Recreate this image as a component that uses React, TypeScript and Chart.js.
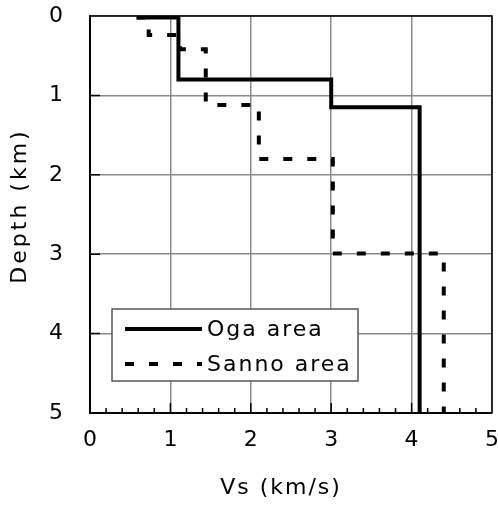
import React, { useEffect, useRef } from "react";
import { Chart, registerables } from "chart.js";

Chart.register(...registerables);

const ogaVs = [0.58, 1.1, 1.1, 3.0, 3.0, 4.1, 4.1];
const ogaDepth = [0.02, 0.02, 0.8, 0.8, 1.15, 1.15, 5];
const sannoVs = [0.58, 0.73, 0.73, 1.12, 1.12, 1.44, 1.44, 2.1, 2.1, 3.02, 3.02, 4.4, 4.4];
const sannoDepth = [0.02, 0.02, 0.24, 0.24, 0.42, 0.42, 1.12, 1.12, 1.8, 1.8, 2.99, 2.99, 5];
const seriesLabels = ["Oga area", "Sanno area"];
const xTitle = "Vs (km/s)";
const yTitle = "Depth (km)";
const xMajorTicks = [0, 1, 2, 3, 4, 5];
const FONT = "DejaVu Sans";

const toPts = (xs: number[], ys: number[]) => xs.map((x, i) => ({ x, y: ys[i] }));

const zeroPad = (s: any) => {
  s.paddingTop = 0;
  s.paddingBottom = 0;
  s.paddingLeft = 0;
  s.paddingRight = 0;
};

const decorPlugin = {
  id: "decor",
  beforeDatasetsDraw(chart: any) {
    const { ctx, chartArea: a } = chart;
    const xs = chart.scales.x;
    const ys = chart.scales.y;
    ctx.save();
    ctx.strokeStyle = "#000";
    ctx.lineWidth = 1.5;
    ctx.beginPath();
    for (let v = 1; v < 5; v++) {
      const py = ys.getPixelForValue(v);
      ctx.moveTo(a.left, py);
      ctx.lineTo(a.left + 10, py);
      const px = xs.getPixelForValue(v);
      ctx.moveTo(px, a.bottom);
      ctx.lineTo(px, a.bottom - 10);
    }
    for (let i = 1; i < 25; i++) {
      if (i % 5 === 0) continue;
      const px = xs.getPixelForValue(i * 0.2);
      ctx.moveTo(px, a.bottom);
      ctx.lineTo(px, a.bottom - 5);
    }
    ctx.stroke();
    ctx.lineWidth = 1.5;
    ctx.beginPath();
    ctx.moveTo(a.left, a.top);
    ctx.lineTo(a.right, a.top);
    ctx.lineTo(a.right, a.bottom);
    ctx.stroke();
    ctx.restore();
  },
  afterDraw(chart: any) {
    const { ctx, chartArea: a } = chart;
    ctx.save();
    (ctx as any).letterSpacing = "2px";
    ctx.fillStyle = "#000";
    ctx.font = `22px "${FONT}"`;
    ctx.textAlign = "center";
    ctx.textBaseline = "middle";
    ctx.fillText(xTitle, a.left + 191, 488);
    ctx.save();
    (ctx as any).letterSpacing = "3px";
    ctx.translate(20, a.top + 190);
    ctx.rotate(-Math.PI / 2);
    ctx.fillText(yTitle, 0, 0);
    ctx.restore();

    // legend
    const bx = a.left + 22;
    const by = a.top + 293;
    const bw = 246;
    const bh = 72;
    ctx.fillStyle = "#fff";
    ctx.fillRect(bx, by, bw, bh);
    ctx.strokeStyle = "#555";
    ctx.lineWidth = 1.5;
    ctx.strokeRect(bx, by, bw, bh);
    chart.data.datasets.forEach((ds: any, i: number) => {
      const ry = by + 20 + i * 35;
      ctx.save();
      ctx.strokeStyle = ds.borderColor;
      ctx.lineWidth = ds.borderWidth;
      ctx.setLineDash(ds.borderDash || []);
      ctx.beginPath();
      ctx.moveTo(bx + 13, ry);
      ctx.lineTo(bx + 90, ry);
      ctx.stroke();
      ctx.restore();
      ctx.fillStyle = "#000";
      ctx.textAlign = "left";
      ctx.textBaseline = "middle";
      ctx.fillText(ds.label, bx + 95, ry + 1);
    });
    ctx.restore();
  },
};

export default function App() {
  const ref = useRef<HTMLCanvasElement>(null);
  useEffect(() => {
    document.body.style.margin = "0";
    if (!ref.current) return;
    const chart = new Chart(ref.current, {
      type: "scatter",
      data: {
        datasets: [
          {
            label: seriesLabels[0],
            data: toPts(ogaVs, ogaDepth),
            showLine: true,
            borderColor: "#000",
            borderWidth: 4,
            pointRadius: 0,
            borderCapStyle: "butt",
            borderJoinStyle: "miter",
          },
          {
            label: seriesLabels[1],
            data: toPts(sannoVs, sannoDepth),
            showLine: true,
            borderColor: "#000",
            borderWidth: 4,
            borderDash: [9, 15],
            pointRadius: 0,
            borderCapStyle: "butt",
            borderJoinStyle: "miter",
          },
        ],
      },
      options: {
        responsive: false,
        animation: false,
        layout: { padding: { top: 16, right: 6, left: 0, bottom: 0 } },
        plugins: { legend: { display: false }, tooltip: { enabled: false } },
        scales: {
          x: {
            type: "linear",
            min: 0,
            max: 5,
            afterFit: (s: any) => {
              s.height = 99;
              zeroPad(s);
            },
            afterBuildTicks: (s: any) => {
              s.ticks = xMajorTicks.map((v) => ({ value: v }));
            },
            ticks: {
              color: "#000",
              font: { family: FONT, size: 22 },
              padding: 14,
              maxRotation: 0,
              callback: (v: any) => String(v),
            },
            grid: { color: "#8a8a8a", lineWidth: 1.5, drawTicks: false },
            border: { color: "#000", width: 2 },
          },
          y: {
            type: "linear",
            reverse: true,
            min: 0,
            max: 5,
            afterFit: (s: any) => {
              s.width = 90;
              zeroPad(s);
            },
            ticks: {
              stepSize: 1,
              color: "#000",
              font: { family: FONT, size: 22 },
              padding: 27,
            },
            grid: { color: "#8a8a8a", lineWidth: 1.5, drawTicks: false },
            border: { color: "#000", width: 2 },
          },
        },
      },
      plugins: [decorPlugin],
    });
    return () => chart.destroy();
  }, []);
  return <canvas ref={ref} width={498} height={512} />;
}
